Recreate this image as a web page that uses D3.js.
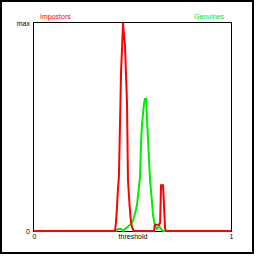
<!DOCTYPE html>
<html lang="en">
<head>
<meta charset="utf-8">
<title>Impostors vs Genuines</title>
<script src="https://cdn.jsdelivr.net/npm/d3@7"></script>
<style>
  body { margin: 0; background: #fff; }
  text { font-family: "Liberation Sans", Arial, sans-serif; font-size: 7px; }
</style>
</head>
<body>
<script>
// score distributions, x = threshold (0..1), y = fraction of max
var impostorsX = [0, 0.411, 0.416, 0.421, 0.426, 0.431, 0.437, 0.442, 0.447, 0.452, 0.457, 0.462, 0.467, 0.472, 0.477, 0.482, 0.487, 0.492, 0.497, 0.508, 0.609, 0.614, 0.635, 0.640, 0.645, 0.655, 0.660, 0.665, 0.670, 1];
var impostorsY = [0, 0, 0.04, 0.11, 0.20, 0.26, 0.53, 0.77, 0.88, 1.0, 0.94, 0.89, 0.75, 0.62, 0.245, 0.17, 0.10, 0.05, 0.02, 0, 0, 0.03, 0.03, 0.04, 0.22, 0.22, 0.125, 0.015, 0, 0];

var genuinesX = [0, 0.416, 0.426, 0.442, 0.452, 0.462, 0.477, 0.492, 0.503, 0.513, 0.523, 0.528, 0.538, 0.543, 0.548, 0.553, 0.558, 0.563, 0.569, 0.574, 0.579, 0.584, 0.589, 0.599, 0.604, 0.614, 0.624, 0.635, 0.645, 0.655, 1];
var genuinesY = [0, 0, 0.01, 0.01, 0, 0.01, 0.02, 0.035, 0.05, 0.085, 0.125, 0.17, 0.255, 0.41, 0.51, 0.56, 0.61, 0.635, 0.635, 0.53, 0.44, 0.34, 0.245, 0.14, 0.077, 0.024, 0.01, 0.024, 0.01, 0, 0];

var xTicks = [0, 0.5, 1];
var xTickLabels = ["0", "threshold", "1"];
var yTicks = [0, 1];
var yTickLabels = ["0", "max"];

var w = 256, h = 256;

var svg = d3.select("body").append("svg")
  .attr("width", w)
  .attr("height", h);

// outer frame
svg.append("rect")
  .attr("x", 1).attr("y", 1)
  .attr("width", 252).attr("height", 252)
  .attr("fill", "none")
  .attr("stroke", "#000")
  .attr("stroke-width", 2);

var x = d3.scaleLinear().domain([0, 1]).range([34, 231]);
var y = d3.scaleLinear().domain([0, 1]).range([231, 23]);

// plot box
svg.append("rect")
  .attr("x", x(0) - 0.5).attr("y", y(1) - 0.5)
  .attr("width", x(1) - x(0) + 1).attr("height", y(0) - y(1) + 1)
  .attr("fill", "none")
  .attr("stroke", "#000");

var xAxis = svg.append("g")
  .attr("transform", `translate(0,${y(0) + 3})`)
  .call(d3.axisBottom(x).tickValues(xTicks).tickSize(0).tickPadding(0)
    .tickFormat((d, i) => xTickLabels[i]));
xAxis.select(".domain").remove();
xAxis.selectAll("text").attr("fill", "#000").attr("font-size", 7).attr("font-family", null);

var yAxis = svg.append("g")
  .attr("transform", `translate(${x(0) - 4},0)`)
  .call(d3.axisLeft(y).tickValues(yTicks).tickSize(0).tickPadding(0)
    .tickFormat((d, i) => yTickLabels[i]));
yAxis.select(".domain").remove();
yAxis.selectAll("text").attr("fill", "#000").attr("font-size", 7).attr("font-family", null);

// legend labels
svg.append("text").attr("x", 40).attr("y", 19).attr("fill", "#ff0000").text("Impostors");
svg.append("text").attr("x", 224).attr("y", 19).attr("text-anchor", "end").attr("fill", "#00ee00").text("Genuines");

var line = d3.line()
  .x(d => x(d[0]))
  .y(d => y(d[1]));

svg.append("path")
  .datum(d3.zip(genuinesX, genuinesY))
  .attr("d", line)
  .attr("fill", "none")
  .attr("stroke", "#00ee00")
  .attr("stroke-width", 2);

svg.append("path")
  .datum(d3.zip(impostorsX, impostorsY))
  .attr("d", line)
  .attr("fill", "none")
  .attr("stroke", "#ff0000")
  .attr("stroke-width", 2);
</script>
</body>
</html>
